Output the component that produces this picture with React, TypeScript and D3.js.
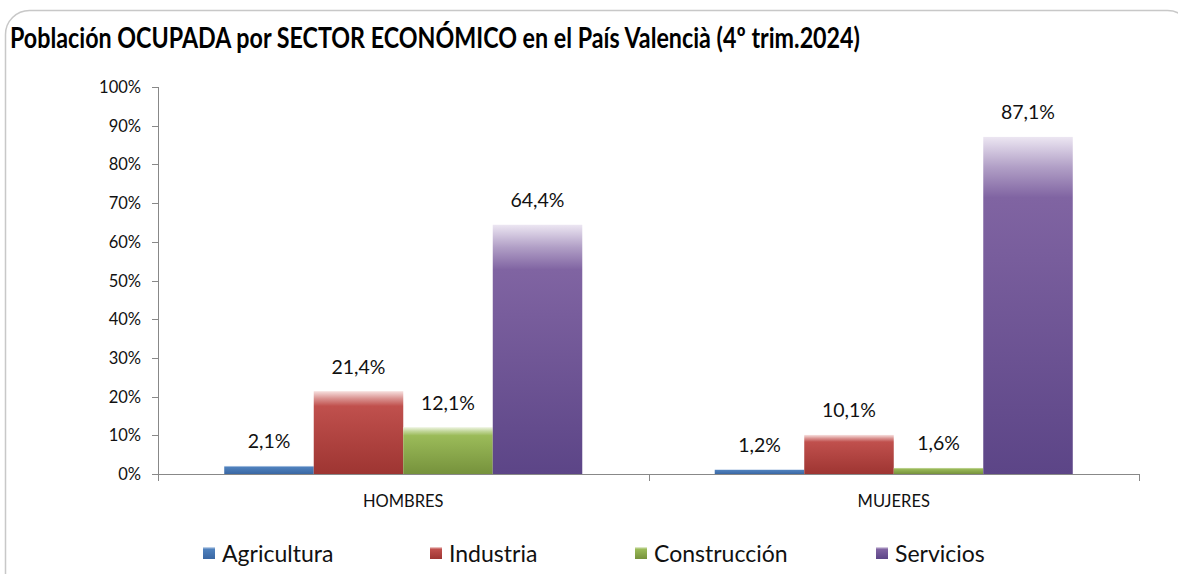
import { useEffect, useRef } from 'react'
import * as d3 from 'd3'

const categories = ['HOMBRES', 'MUJERES']
const sectors = ['Agricultura', 'Industria', 'Construcción', 'Servicios']
const agricultura = [2.1, 1.2]
const industria = [21.4, 10.1]
const construccion = [12.1, 1.6]
const servicios = [64.4, 87.1]
const yTicks = [0, 10, 20, 30, 40, 50, 60, 70, 80, 90, 100]

const colors = ['#4f81bd', '#c0504d', '#9bbb59', '#8064a2']
const darkColors = ['#3a67a3', '#9e3532', '#76923c', '#5c4587']
const lightColors = ['#dbe6f4', '#f7e0df', '#eef4e2', '#ece6f2']

const WIDTH = 1178
const HEIGHT = 574

export default function App() {
  const svgRef = useRef<SVGSVGElement>(null)

  useEffect(() => {
    document.body.style.margin = '0'
    if (!svgRef.current) return
    const svg = d3.select(svgRef.current)
    svg.selectAll('*').remove()

    const series = [agricultura, industria, construccion, servicios]
    const font = 'Lato, "Open Sans", sans-serif'

    const defs = svg.append('defs')
    sectors.forEach((_, i) => {
      const g = defs.append('linearGradient')
        .attr('id', `grad${i}`)
        .attr('x1', 0).attr('y1', 0).attr('x2', 0).attr('y2', 1)
      const mid = d3.interpolateRgb(lightColors[i], colors[i])(0.55)
      g.append('stop').attr('offset', '0%').attr('stop-color', lightColors[i])
      g.append('stop').attr('offset', '9%').attr('stop-color', mid)
      g.append('stop').attr('offset', '18%').attr('stop-color', colors[i])
      g.append('stop').attr('offset', '100%').attr('stop-color', darkColors[i])
    })

    // frame
    svg.append('rect')
      .attr('x', 5.5).attr('y', 10.5)
      .attr('width', 1186).attr('height', 620)
      .attr('rx', 24)
      .attr('fill', 'white')
      .attr('stroke', '#c8c8c8')
      .attr('stroke-width', 1.5)

    svg.append('text')
      .attr('x', 10).attr('y', 48)
      .style('font-family', font)
      .style('font-weight', 'bold')
      .style('font-size', '29px')
      .attr('textLength', 850)
      .attr('lengthAdjust', 'spacingAndGlyphs')
      .text('Población OCUPADA por SECTOR ECONÓMICO en el País Valencià (4º trim.2024)')

    const x0 = d3.scaleBand().domain(categories).range([158, 1139]).paddingInner(0).paddingOuter(0)
    const x1 = d3.scaleBand().domain(sectors).range([0, x0.bandwidth()]).paddingInner(0).paddingOuter(0.74)
    const y = d3.scaleLinear().domain([0, 100]).range([474, 87])

    // y axis
    const yAxis = svg.append('g')
    yAxis.append('line')
      .attr('x1', 158.5).attr('x2', 158.5)
      .attr('y1', y(100)).attr('y2', y(0))
      .attr('stroke', '#888')
    yTicks.forEach(t => {
      yAxis.append('line')
        .attr('x1', 152).attr('x2', 158)
        .attr('y1', Math.round(y(t)) + 0.5).attr('y2', Math.round(y(t)) + 0.5)
        .attr('stroke', '#888')
      yAxis.append('text')
        .attr('x', 141).attr('y', y(t))
        .attr('text-anchor', 'end')
        .attr('dominant-baseline', 'central')
        .style('font-family', font)
        .style('font-size', '16.5px')
        .style('fill', '#111')
        .text(`${t}%`)
    })

    // bars
    categories.forEach((c, ci) => {
      sectors.forEach((s, si) => {
        const v = series[si][ci]
        const bx = x0(c)! + x1(s)!
        svg.append('rect')
          .attr('x', bx).attr('y', y(v))
          .attr('width', x1.bandwidth())
          .attr('height', y(0) - y(v))
          .attr('fill', `url(#grad${si})`)
        svg.append('text')
          .attr('x', bx + x1.bandwidth() / 2)
          .attr('y', y(v) - 25)
          .attr('text-anchor', 'middle')
          .attr('dominant-baseline', 'central')
          .style('font-family', font)
          .style('font-size', '19.5px')
          .style('fill', '#111')
          .text(`${v.toFixed(1).replace('.', ',')}%`)
      })
    })

    // x axis
    const xAxis = svg.append('g')
    xAxis.append('line')
      .attr('x1', 158).attr('x2', 1139)
      .attr('y1', 474.5).attr('y2', 474.5)
      .attr('stroke', '#888')
    const edges = [158, ...categories.map(c => x0(c)! + x0.bandwidth())]
    edges.forEach(e => {
      xAxis.append('line')
        .attr('x1', Math.round(e) + 0.5).attr('x2', Math.round(e) + 0.5)
        .attr('y1', 474).attr('y2', 481)
        .attr('stroke', '#888')
    })
    categories.forEach(c => {
      xAxis.append('text')
        .attr('x', x0(c)! + x0.bandwidth() / 2)
        .attr('y', 501)
        .attr('text-anchor', 'middle')
        .attr('dominant-baseline', 'central')
        .style('font-family', font)
        .style('font-size', '16.5px')
        .style('fill', '#111')
        .text(c)
    })

    // legend
    const legendX = [203, 430, 635, 876]
    sectors.forEach((s, i) => {
      const g = svg.append('g').attr('transform', `translate(${legendX[i]},553)`)
      g.append('rect')
        .attr('x', 0).attr('y', -6)
        .attr('width', 12).attr('height', 12)
        .attr('fill', `url(#grad${i})`)
      g.append('text')
        .attr('x', 19).attr('y', 0)
        .attr('dominant-baseline', 'central')
        .style('font-family', font)
        .style('font-size', '23px')
        .style('fill', '#111')
        .text(s)
    })
  }, [])

  return (
    <svg
      ref={svgRef}
      width={WIDTH}
      height={HEIGHT}
      style={{ display: 'block' }}
    />
  )
}
